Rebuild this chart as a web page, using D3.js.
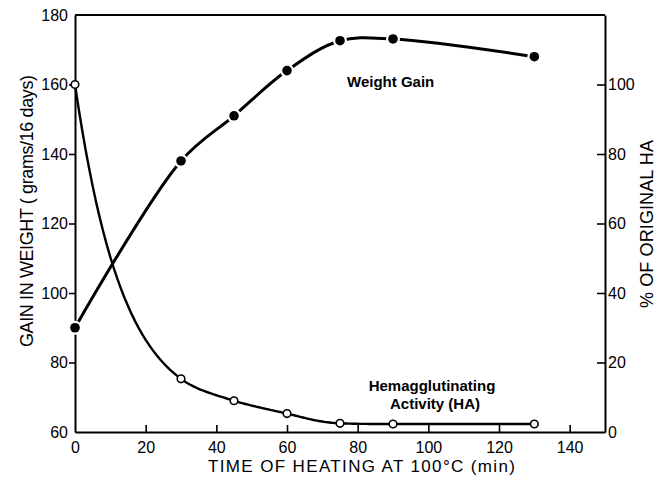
<!DOCTYPE html>
<html>
<head>
<meta charset="utf-8">
<script src="https://cdn.jsdelivr.net/npm/d3@7"></script>
<style>
    body { margin: 0; background: #fff; }
    text { font-family: "Liberation Sans", Arial, sans-serif; fill: #000; }
</style>
</head>
<body>
<div id="chart"></div>
<script>
// Chart size and plot frame
const WIDTH = 656;
const HEIGHT = 478;
const MARGIN = { top: 15, right: 51, bottom: 46, left: 75 };

// Data
const minutes = [0, 30, 45, 60, 75, 90, 130];
const weightGain = [90, 138, 151, 164, 172.6, 173.1, 168];   // grams / 16 days
const haPercent = [100, 15.3, 9, 5.3, 2.5, 2.3, 2.3];        // % of original HA

// Tick labels
const xTicks = [0, 20, 40, 60, 80, 100, 120, 140];
const leftTicks = [60, 80, 100, 120, 140, 160, 180];
const rightTicks = [0, 20, 40, 60, 80, 100];

const innerW = WIDTH - MARGIN.left - MARGIN.right;
const innerH = HEIGHT - MARGIN.top - MARGIN.bottom;

const svg = d3.select('#chart')
    .append('svg')
    .attr('width', WIDTH)
    .attr('height', HEIGHT);

const g = svg.append('g')
    .attr('transform', `translate(${MARGIN.left},${MARGIN.top})`);

// Scales
const x = d3.scaleLinear().domain([0, 150]).range([0, innerW]);
const yLeft = d3.scaleLinear().domain([60, 180]).range([innerH, 0]);
const yRight = d3.scaleLinear().domain([0, 120]).range([innerH, 0]);

// Curve that interpolates monotonically in log space (decay shape)
function curveLogY(scale) {
    return function(context) {
        let pts = [];
        return {
            areaStart() {}, areaEnd() {},
            lineStart() { pts = []; },
            point(px, py) { pts.push([px, Math.log(scale.invert(py))]); },
            lineEnd() {
                const n = pts.length;
                const d = [], m = [];
                for (let i = 0; i < n - 1; i++) {
                    d[i] = (pts[i + 1][1] - pts[i][1]) / (pts[i + 1][0] - pts[i][0]);
                }
                for (let i = 1; i < n - 1; i++) {
                    m[i] = d[i - 1] * d[i] <= 0 ? 0 : (d[i - 1] + d[i]) / 2;
                }
                m[0] = (3 * d[0] - m[1]) / 2;
                m[n - 1] = (3 * d[n - 2] - m[n - 2]) / 2;
                for (let i = 0; i < n - 1; i++) {
                    if (d[i] === 0) { m[i] = 0; m[i + 1] = 0; continue; }
                    const a = m[i] / d[i], b = m[i + 1] / d[i], s = a * a + b * b;
                    if (s > 9) {
                        const t = 3 / Math.sqrt(s);
                        m[i] = t * a * d[i];
                        m[i + 1] = t * b * d[i];
                    }
                }
                context.moveTo(pts[0][0], scale(Math.exp(pts[0][1])));
                for (let i = 0; i < n - 1; i++) {
                    const [x0, y0] = pts[i], [x1, y1] = pts[i + 1], h = x1 - x0;
                    for (let k = 1; k <= 30; k++) {
                        const t = k / 30, t2 = t * t, t3 = t2 * t;
                        const v = (2 * t3 - 3 * t2 + 1) * y0 + (t3 - 2 * t2 + t) * h * m[i]
                            + (-2 * t3 + 3 * t2) * y1 + (t3 - t2) * h * m[i + 1];
                        context.lineTo(x0 + t * h, scale(Math.exp(v)));
                    }
                }
            }
        };
    };
}

// Axes
const xAxis = d3.axisBottom(x).tickValues(xTicks).tickSize(-7).tickSizeOuter(0).tickPadding(10);
const leftAxis = d3.axisLeft(yLeft).tickValues(leftTicks).tickSize(6).tickSizeOuter(0).tickPadding(1);
const rightAxis = d3.axisRight(yRight).tickValues(rightTicks).tickSize(-8).tickSizeOuter(0).tickPadding(3);

function styleAxis(sel) {
    sel.select('.domain').attr('stroke', '#000').attr('stroke-width', 2);
    sel.selectAll('.tick line').attr('stroke', '#000').attr('stroke-width', 1.6);
    sel.selectAll('.tick text')
        .attr('font-family', '"Liberation Sans", Arial, sans-serif')
        .attr('font-size', 16)
        .attr('fill', '#000');
}

g.append('g')
    .attr('transform', `translate(0,${innerH})`)
    .call(xAxis)
    .call(styleAxis)
    .call(s => s.selectAll('.tick line').filter(d => d === 0).remove());

g.append('g')
    .call(leftAxis)
    .call(styleAxis)
    .call(s => s.selectAll('.tick line').filter(d => d === 60 || d === 180).remove());

g.append('g')
    .attr('transform', `translate(${innerW},0)`)
    .call(rightAxis)
    .call(styleAxis)
    .call(s => s.selectAll('.tick line').filter(d => d === 0).remove());

// Top border of the frame
g.append('line')
    .attr('x1', 0).attr('x2', innerW)
    .attr('y1', 0).attr('y2', 0)
    .attr('stroke', '#000').attr('stroke-width', 2);

// Weight gain curve (left axis)
const wgData = minutes.map((m, i) => ({ x: m, y: weightGain[i] }));
const wgLine = d3.line()
    .x(d => x(d.x))
    .y(d => yLeft(d.y))
    .curve(d3.curveCatmullRom.alpha(0.5));

g.append('path')
    .datum(wgData)
    .attr('fill', 'none')
    .attr('stroke', '#000')
    .attr('stroke-width', 3)
    .attr('d', wgLine);

// Hemagglutinating activity curve (right axis)
const haData = minutes.map((m, i) => ({ x: m, y: haPercent[i] }));
const haLine = d3.line()
    .x(d => x(d.x))
    .y(d => yRight(d.y))
    .curve(curveLogY(yRight));

g.append('path')
    .datum(haData)
    .attr('fill', 'none')
    .attr('stroke', '#000')
    .attr('stroke-width', 2.4)
    .attr('d', haLine);

// Filled points with white halo
g.selectAll('.wg-halo')
    .data(wgData)
    .enter().append('circle')
    .attr('cx', d => x(d.x))
    .attr('cy', d => yLeft(d.y))
    .attr('r', 7)
    .attr('fill', '#fff');

g.selectAll('.wg-point')
    .data(wgData)
    .enter().append('circle')
    .attr('cx', d => x(d.x))
    .attr('cy', d => yLeft(d.y))
    .attr('r', 4.8)
    .attr('fill', '#000');

// Open points
g.selectAll('.ha-point')
    .data(haData)
    .enter().append('circle')
    .attr('cx', d => x(d.x))
    .attr('cy', d => yRight(d.y))
    .attr('r', 3.8)
    .attr('fill', '#fff')
    .attr('stroke', '#000')
    .attr('stroke-width', 1.6);

// Axis titles
svg.append('text')
    .attr('x', 208).attr('y', 472)
    .attr('font-size', 17)
    .attr('textLength', 307)
    .text('TIME OF HEATING AT 100°C (min)');

svg.append('text')
    .attr('transform', 'translate(33,211) rotate(-90)')
    .attr('text-anchor', 'middle')
    .attr('font-size', 18)
    .attr('textLength', 272)
    .text('GAIN IN WEIGHT ( grams/16 days)');

svg.append('text')
    .attr('transform', 'translate(653,224) rotate(-90)')
    .attr('text-anchor', 'middle')
    .attr('font-size', 18)
    .attr('textLength', 168)
    .text('% OF ORIGINAL HA');

// Curve annotations
svg.append('text')
    .attr('x', 347).attr('y', 87)
    .attr('font-size', 15)
    .attr('font-weight', 'bold')
    .text('Weight Gain');

svg.append('text')
    .attr('x', 432).attr('y', 391)
    .attr('text-anchor', 'middle')
    .attr('font-size', 15)
    .attr('font-weight', 'bold')
    .text('Hemagglutinating');

svg.append('text')
    .attr('x', 435).attr('y', 409)
    .attr('text-anchor', 'middle')
    .attr('font-size', 15)
    .attr('font-weight', 'bold')
    .text('Activity (HA)');
</script>
</body>
</html>
